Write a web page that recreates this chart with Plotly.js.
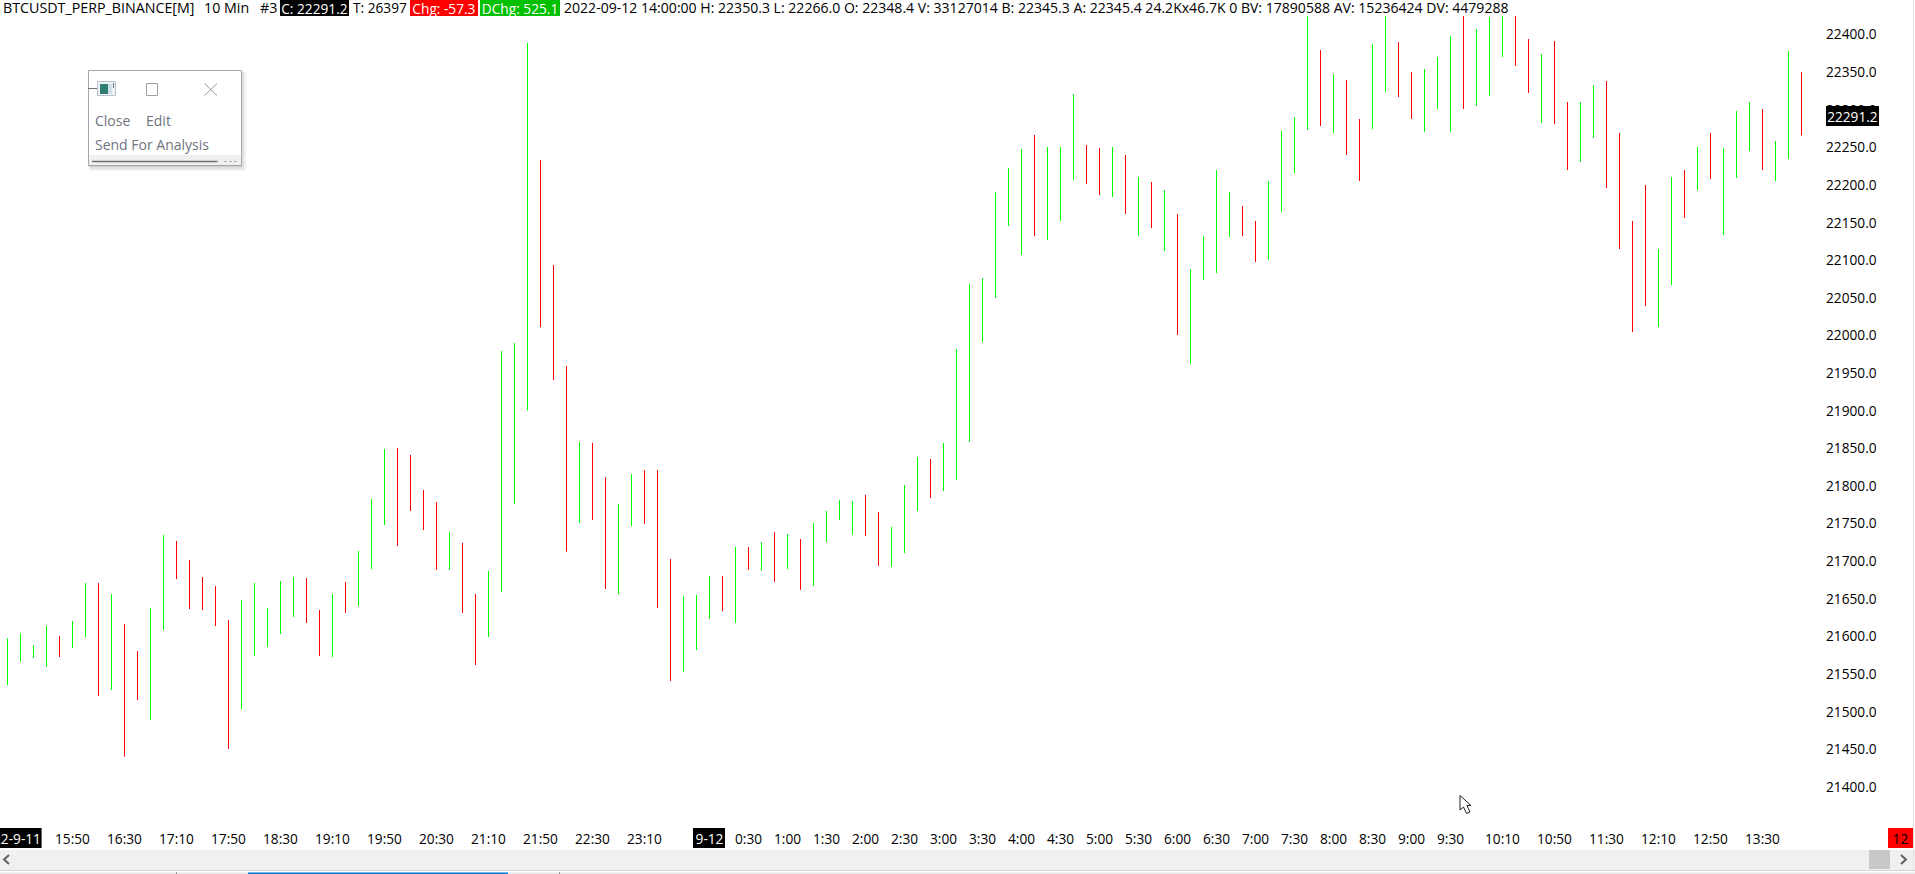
<!DOCTYPE html>
<html>
<head>
<meta charset="utf-8">
<script src="https://cdn.plot.ly/plotly-3.0.1.min.js"></script>
<style>html,body{margin:0;padding:0;background:#fff;overflow:hidden}#chart{width:1915px;height:874px}</style>
</head>
<body>
<div id="chart"></div>
<script>
// ---- data (10 minute bars, 2022-09-11 15:00 onwards) ----
const barHigh = [21597.6,21604.2,21588.7,21614,21600.7,21620.6,21671.1,21671.1,21656.5,21616.6,
21580.7,21637.9,21734.9,21727,21701.7,21679.1,21667.1,21621.9,21648.5,21671.1,
21637.9,21673.8,21679.2,21677.8,21635.3,21656.6,21672.5,21713.7,21782.8,21849.3,
21850.6,21841.3,21794.8,21778.9,21739,21724.4,21656.6,21687.1,21979.6,21990.2,
22389,22233.4,22093.9,21959.6,21858.6,21857.5,21811.9,21776.2,21816,21821.2,
21821.2,21703,21654,21655.2,21680.5,21680.5,21719.1,21719.1,21725.5,21738.7,
21736.4,21729.5,21750.8,21767,21781.4,21780.2,21788.3,21765.5,21745.6,21801.4,
21838.6,21836,21857.2,21982.2,22068.6,22076.6,22190.9,22222.8,22248.1,22266.7,
22250.7,22250.7,22321,22253.4,22249.4,22250.7,22240.1,22210.8,22204.2,22193.5,
22161.6,22088.5,22132.4,22220.1,22190.9,22172.3,22152.3,22205.5,22272,22290.6,
22425,22379.6,22347.7,22339.8,22287.9,22387.6,22425,22390.3,22350.4,22354.4,
22370.3,22398.2,22425,22407.6,22423.5,22425,22425,22394.3,22374.3,22391.6,
22310.5,22310.5,22333.1,22338.4,22269.3,22152.3,22200.2,22115.1,22210.8,22220.1,
22250.7,22269.3,22249.4,22298.5,22310.5,22301.2,22258.7,22378.3,22350.3];
const barLow = [21535.5,21566.6,21571.4,21559.5,21572.8,21584.7,21599.3,21520.9,21528.9,21440.3,
21515.6,21489,21608.6,21676.4,21636.6,21635.2,21614,21450.5,21503.6,21574.1,
21586,21603.3,21626,21618,21574.2,21572.8,21631.3,21640.6,21689.8,21748.3,
21720.4,21766.9,21741.6,21688.5,21688.5,21631.3,21562.2,21599.4,21659.2,21776.2,
21900.3,22011,21941,21712.8,21750.9,21754.9,21663.2,21656.3,21746.8,21749.7,
21637.9,21541,21553.1,21581.9,21623.4,21633.8,21618.3,21688.6,21687.4,21672.4,
21689.7,21662.1,21667.3,21725.5,21754.9,21735.3,21733.6,21693.7,21692.4,21711,
21766.8,21784.1,21793.4,21808.1,21858.6,21991.5,22050,22145.7,22107.2,22132.4,
22127.1,22152.4,22206.9,22201.5,22186.9,22184.3,22161.7,22132.4,22143,22112.4,
22000.8,21962.2,22073.9,22083.2,22131.1,22132.4,22097.8,22100.5,22164.3,22216.1,
22273.3,22278.6,22269.3,22240.1,22205.5,22274.6,22323.8,22317.2,22287.9,22270.6,
22301.2,22270.6,22301.2,22305.2,22318.5,22370.3,22358.4,22322.5,22282.6,22281.3,
22220.1,22230.8,22262.7,22196.2,22115.1,22004.8,22039.3,22011.4,22067.2,22156.3,
22193.5,22208.2,22133.7,22209.5,22245.4,22220.1,22205.5,22234.7,22266];
// 1 = up bar (green), 0 = down bar (red)
const barUp = [1,1,1,1,0,1,1,0,1,0, 0,1,1,0,0,0,0,0,1,1, 1,1,1,0,0,1,0,1,1,1,
0,0,0,0,1,0,0,1,1,1, 1,0,0,0,1,0,0,1,1,0, 0,0,1,1,1,0,1,0,1,0,
1,0,1,1,1,1,0,0,1,1, 1,0,1,1,1,1,1,1,1,0, 1,1,1,0,0,1,0,1,0,1,
0,1,1,1,1,0,0,1,1,1, 1,0,1,0,0,1,1,0,0,1, 1,1,0,1,1,1,0,0,1,0,
0,1,1,0,0,0,0,1,1,0, 1,0,1,1,1,0,1,1,0];
const priceTicks = [22400,22350,22300,22250,22200,22150,22100,22050,22000,21950,21900,21850,21800,21750,21700,21650,21600,21550,21500,21450,21400];
const timeTickIdx = [5,9,13,17,21,25,29,33,37,41,45,49,54,57,60,63,66,69,72,75,78,81,84,87,90,93,96,99,102,105,108,111,115,119,123,127,131,135];
const timeTickLabels = ["15:50","16:30","17:10","17:50","18:30","19:10","19:50","20:30","21:10","21:50","22:30","23:10","9-12","0:30","1:00","1:30","2:00","2:30","3:00","3:30","4:00","4:30","5:00","5:30","6:00","6:30","7:00","7:30","8:00","8:30","9:00","9:30","10:10","10:50","11:30","12:10","12:50","13:30"];
const firstDateLabel = "22-9-11";
const dateLabels = ["9-12"];
const lastPrice = "22291.2";
const headerInfo = "2022-09-12 14:00:00 H: 22350.3 L: 22266.0 O: 22348.4 V: 33127014 B: 22345.3 A: 22345.4 24.2Kx46.7K 0 BV: 17890588 AV: 15236424 DV: 4479288";

// ---- page geometry ----
const FW = 1915, FH = 874, PL = 0, PR = 1825, PT = 16, PB = 828;
const PW = PR - PL, PH = PB - PT;
const BAR0 = 7.5, BARSTEP = 13;
const FONT = '"Open Sans", "Noto Sans", sans-serif';
const FS = 13.7;
const px = v => (v - PL) / PW;
const py = v => 1 - (v - PT) / PH;
const V_AT_34 = 22400, PX_PER_UNIT = 0.7523, Y_22400 = 34.7;
const yToVal = y => V_AT_34 + (Y_22400 - y) / PX_PER_UNIT;

const barIdx = barHigh.map((_, i) => i);
const barOpen = barHigh.map((h, i) => barUp[i] ? barLow[i] : h);
const barClose = barHigh.map((h, i) => barUp[i] ? h : barLow[i]);

const trace = {
  type: 'ohlc', x: barIdx, open: barOpen, high: barHigh, low: barLow, close: barClose,
  tickwidth: 0, hoverinfo: 'skip',
  increasing: {line: {color: '#00ff00', width: 1}},
  decreasing: {line: {color: '#ff0000', width: 1}},
  line: {width: 1}, showlegend: false
};

function rect(x0, y0, x1, y1, fill, line, layer) {
  return {type: 'rect', xref: 'paper', yref: 'paper', x0: px(x0), x1: px(x1), y0: py(y0), y1: py(y1),
    fillcolor: fill, line: line ? {color: line, width: 1} : {width: 0}, layer: layer || 'above'};
}
function seg(x0, y0, x1, y1, color, width) {
  return {type: 'line', xref: 'paper', yref: 'paper', x0: px(x0), x1: px(x1), y0: py(y0), y1: py(y1),
    line: {color: color, width: width || 1}, layer: 'above'};
}
function poly(pts, fill, line, w, closed) {
  const d = pts.map((p, i) => (i ? 'L' : 'M') + px(p[0]) + ',' + py(p[1])).join(' ') + (closed ? ' Z' : '');
  return {type: 'path', xref: 'paper', yref: 'paper', path: d, fillcolor: fill || 'rgba(0,0,0,0)',
    line: {color: line, width: w || 1}, layer: 'above'};
}
function note(text, x, yMid, opt) {
  opt = opt || {};
  const a = {text: text, xref: 'paper', yref: 'paper', x: px(x), y: py(yMid), showarrow: false,
    xanchor: opt.anchor || 'left', yanchor: 'middle', align: opt.align || 'left',
    font: {family: FONT, size: opt.size || FS, color: opt.color || '#000'}, borderpad: 0, borderwidth: 0};
  if (opt.bg) a.bgcolor = opt.bg;
  if (opt.w) a.width = opt.w;
  if (opt.h) a.height = opt.h;
  return a;
}

const shapes = [
  // black date boxes behind the axis labels
  rect(0, 828, 41.6, 848, '#000', null, 'below'),
  rect(693, 828, 725, 848, '#000', null, 'below'),
  // scrollbar
  rect(0, 850, FW, 870, '#f0f0f0'),
  seg(0, 870.5, FW, 870.5, '#d4d4d4'),
  rect(0, 871, FW, 872.5, '#ffffff'),
  rect(0, 872.5, FW, 874, '#e6e6e6'),
  rect(248, 872.5, 508, 874, '#0078d7'),
  seg(176.5, 872, 176.5, 874, '#909090'),
  seg(559.5, 872, 559.5, 874, '#909090'),
  rect(1869, 850, 1890, 869, '#c8c8c8'),
  poly([[9, 855], [4, 859.5], [9, 864]], null, '#606060', 2),
  poly([[1901, 855], [1906, 859.5], [1901, 864]], null, '#606060', 2),
  seg(1913.5, 0, 1913.5, 870, '#e4e4e4'),
  // floating window: shadow, body, controls
  rect(90, 72, 246, 171, 'rgba(0,0,0,0.05)'),
  rect(89, 71, 244, 169, 'rgba(0,0,0,0.07)'),
  rect(88, 70, 242, 167, 'rgba(0,0,0,0.08)'),
  rect(88.5, 70.5, 241.5, 165.5, '#ffffff', '#a6a6a6'),
  rect(89, 155, 241, 165, '#f0f0f0'),
  seg(92, 161.5, 217.5, 161.5, '#707070', 1.5),
  {type: 'line', xref: 'paper', yref: 'paper', x0: px(224), x1: px(239), y0: py(161.5), y1: py(161.5),
    line: {color: '#b0b0b0', width: 1, dash: '3px,2px'}, layer: 'above'},
  seg(88, 88.5, 97, 88.5, '#707070'),
  rect(97.5, 81.5, 115.5, 95.5, '#eef2f5', '#b9c2c9'),
  rect(100, 84, 108, 94, '#2f7f72'),
  rect(108, 84, 112, 94, '#cfe0e6'),
  rect(113, 83, 114, 88, '#5a7f8f'),
  rect(146.5, 83.5, 157.5, 95.5, '#ffffff', '#a0a0a0'),
  seg(204.5, 83.5, 217, 95.5, '#9a9a9a'),
  seg(217, 83.5, 204.5, 95.5, '#9a9a9a'),
  // mouse pointer
  poly([[1460, 795.5], [1460, 810], [1463.5, 807], [1466.5, 813.5], [1470, 812], [1467, 805.5], [1471, 805.5]], '#ffffff', '#202020', 1, true)
];

const annotations = [
  note("BTCUSDT_PERP_BINANCE[M]", 3, 7.5, {size: 14.25}),
  note("10 Min", 204, 7.5, {size: 14.25}),
  note("#3", 260, 7.5, {size: 14.25}),
  note("C: " + lastPrice, 280, 8, {bg: '#000', color: '#fff', w: 69, h: 16, align: 'center'}),
  note("T: 26397", 353, 7.5),
  note("Chg: -57.3", 410, 8, {bg: '#ff0000', color: '#fff', w: 68, h: 16, align: 'center'}),
  note("DChg: 525.1", 480, 8, {bg: '#00c000', color: '#fff', w: 80, h: 16, align: 'center'}),
  note(headerInfo, 564, 7.5, {size: 14.07}),
  note(lastPrice, 1826, 116, {bg: '#000', color: '#fff', w: 53, h: 20, align: 'center'}),
  note("12", 1888, 838, {bg: '#ff0000', color: '#000', w: 25, h: 20, align: 'center'}),
  note(firstDateLabel, 41, 838, {color: '#fff', anchor: 'right'}),
  // floating window captions
  note("Close", 95, 120.5, {color: '#6f7480', size: 14}),
  note("Edit", 146, 120.5, {color: '#6f7480', size: 14}),
  note("Send For Analysis", 95, 144.5, {color: '#6f7480', size: 14})
];

const layout = {
  width: FW, height: FH,
  margin: {l: PL, r: FW - PR, t: PT, b: FH - PB, pad: 0},
  paper_bgcolor: '#ffffff', plot_bgcolor: '#ffffff',
  showlegend: false, dragmode: false, hovermode: false,
  font: {family: FONT, size: FS, color: '#000'},
  xaxis: {
    type: 'linear',
    range: [(PL - BAR0) / BARSTEP, (PR - BAR0) / BARSTEP],
    rangeslider: {visible: false},
    tickmode: 'array', tickvals: timeTickIdx,
    ticktext: timeTickLabels.map(t => dateLabels.includes(t) ? '<span style="color:#ffffff">' + t + '</span>' : t),
    tickangle: 0, ticks: '', showgrid: false, zeroline: false, showline: false, ticklabelstandoff: 1,
    tickfont: {family: FONT, size: FS, color: '#000'}, fixedrange: true
  },
  yaxis: {
    type: 'linear', side: 'right',
    range: [yToVal(PB), yToVal(PT)],
    tickmode: 'array', tickvals: priceTicks, ticktext: priceTicks.map(v => v.toFixed(1)),
    ticks: '', showgrid: false, zeroline: false, showline: false,
    tickfont: {family: FONT, size: FS, color: '#000'}, fixedrange: true
  },
  shapes: shapes, annotations: annotations
};

Plotly.newPlot('chart', [trace], layout, {staticPlot: true, displayModeBar: false, responsive: false});
</script>
</body>
</html>
